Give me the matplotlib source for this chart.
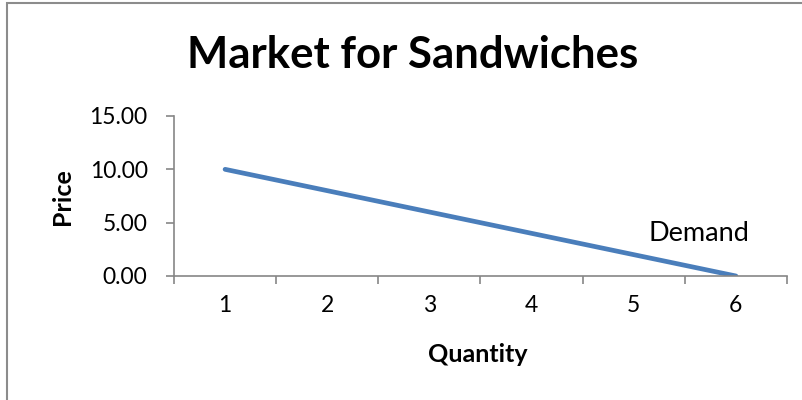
import numpy as np
import matplotlib.pyplot as plt
from matplotlib.patches import Rectangle

quantity = [1, 2, 3, 4, 5, 6]
price = [10, 8, 6, 4, 2, 0]
y_ticks = [0, 5, 10, 15]

plt.rcParams['font.family'] = ['Lato', 'DejaVu Sans']
axis_grey = '#868686'

fig = plt.figure(figsize=(8.03, 4.0), dpi=100)
fig.patches.append(Rectangle((7 / 803, -0.1), 1.2, 1.1 - 3 / 400,
                             transform=fig.transFigure, fill=False,
                             edgecolor='#8c8c8c', linewidth=1.5))

ax = fig.add_axes([174 / 803, 124 / 400, (787 - 174) / 803, 160 / 400])
ax.plot(quantity, price, color='#4a7ebb', linewidth=3.4, solid_capstyle='round')

ax.set_xlim(0.5, 6.5)
ax.set_ylim(0, 15)
ax.set_yticks(y_ticks)
ax.set_yticklabels(['%.2f' % v for v in y_ticks], fontsize=16.5)

# category ticks sit between the labels
ax.set_xticks(np.arange(0.5, 7, 1))
ax.set_xticklabels([])
ax.set_xticks(quantity, minor=True)
ax.set_xticklabels([str(q) for q in quantity], minor=True, fontsize=16.5)
ax.tick_params(axis='x', which='major', length=6, color=axis_grey, width=1.2)
ax.tick_params(axis='x', which='minor', length=0, pad=14)
ax.tick_params(axis='y', length=6, color=axis_grey, width=1.2, pad=13)

for side in ['top', 'right']:
    ax.spines[side].set_visible(False)
for side in ['left', 'bottom']:
    ax.spines[side].set_color(axis_grey)
    ax.spines[side].set_linewidth(1.2)

fig.text(63 / 803, 1 - 197 / 400, 'Price', fontsize=18, fontweight='bold',
         rotation=90, ha='center', va='center')
fig.text(478 / 803, 1 - 355 / 400, 'Quantity', fontsize=18, fontweight='bold',
         ha='center', va='center')
ax.text(5.14, 4.0, 'Demand', fontsize=19.5, va='center', ha='left')

fig.text(413 / 803, 1 - 55 / 400, 'Market for Sandwiches', fontsize=31.5,
         fontweight='bold', ha='center', va='center')

fig.savefig('out.png', dpi=100)
